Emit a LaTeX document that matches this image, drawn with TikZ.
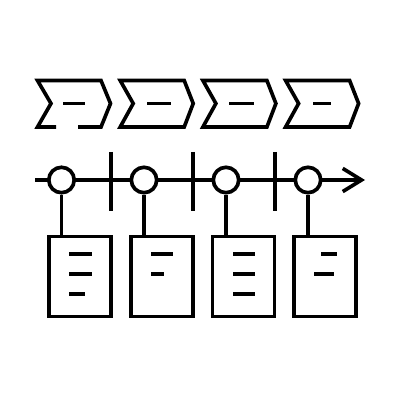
\documentclass[tikz,border=0pt]{standalone}
\usetikzlibrary{arrows.meta}
\begin{document}
\begin{tikzpicture}[x=0.025cm,y=-0.025cm,line width=2.6pt,miter limit=10,
  dot/.style={circle,draw,fill=white,minimum size=0.635cm,inner sep=0pt},
  card/.style={rectangle,draw,fill=white,minimum width=1.55cm,minimum height=2.0cm,inner sep=0pt},
  stroke/.style={line width=2.6pt}]
\useasboundingbox (0,0) rectangle (400,400);
% chevrons
\draw[stroke] (56,127) -- (37.5,127) -- (51,103.5) -- (37.5,80.5) -- (101,80.5) -- (110.5,103.5) -- (101,127) -- (78,127);
\foreach \i in {1,2,3}{
  \pgfmathsetmacro{\xo}{37.5+82.7*\i}
  \draw[stroke] (\xo,80.5) -- (\xo+64,80.5) -- (\xo+73,103.5) -- (\xo+64,127) -- (\xo,127) -- (\xo+13,103.5) -- cycle;
}
\draw[stroke] (63,103.5) -- (85,103.5);
\draw[stroke] (147,103.5) -- (171,103.5);
\draw[stroke] (229,103.5) -- (254,103.5);
\draw[stroke] (313,103.5) -- (331,103.5);
% timeline
\coordinate (ts) at (35,180);
\coordinate (te) at (365,180);
\draw[stroke,-{Straight Barb[length=0.47cm,width=0.58cm,line width=2.6pt]}] (ts) -- (te);
% ticks
\foreach \x in {111,193,275}{ \draw[stroke] (\x,152) -- (\x,211); }
% circles and boxes
\node[dot] (c1) at (61.5,180) {};
\node[dot] (c2) at (144,180) {};
\node[dot] (c3) at (226,180) {};
\node[dot] (c4) at (308,180) {};
\node[card] (b1) at (80,276.5) {};
\node[card] (b2) at (161.7,276.5) {};
\node[card] (b3) at (243.4,276.5) {};
\node[card] (b4) at (325,276.5) {};
\draw[stroke] (c1.south) -- (c1.south |- b1.north);
\draw[stroke] (c2.south) -- (c2.south |- b2.north);
\draw[stroke] (c3.south) -- (c3.south |- b3.north);
\draw[stroke] (c4.south) -- (c4.south |- b4.north);
% card lines
\draw[stroke] (69,254) -- (92,254) (69,274) -- (92,274) (69,294) -- (85,294);
\draw[stroke] (151,254) -- (173,254) (151,274) -- (164,274);
\draw[stroke] (233,254) -- (255,254) (233,274) -- (255,274) (233,294) -- (255,294);
\draw[stroke] (321,254) -- (337,254) (314,274) -- (334,274);
\end{tikzpicture}
\end{document}
